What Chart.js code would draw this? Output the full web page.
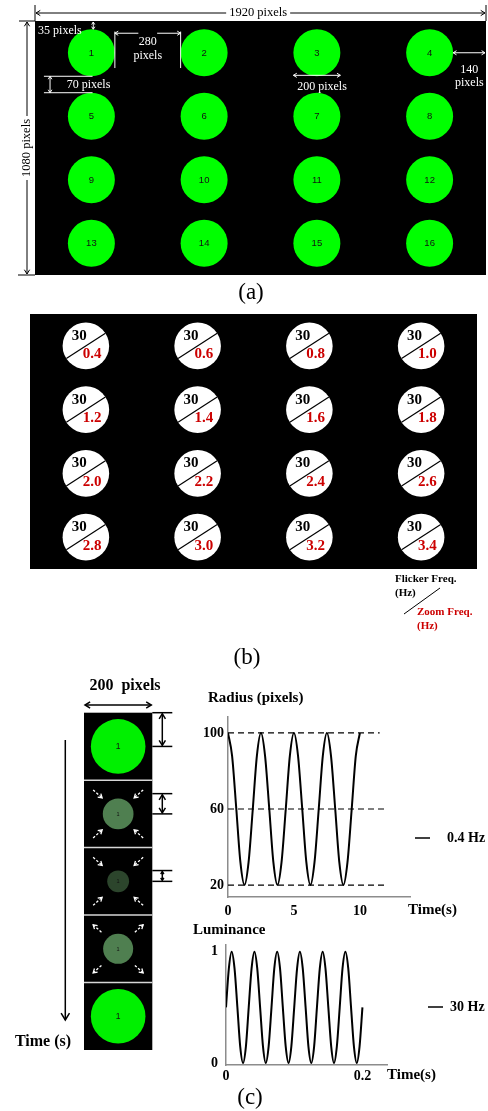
<!DOCTYPE html>
<html>
<head>
<meta charset="utf-8">
<script src="https://cdn.jsdelivr.net/npm/chart.js@4.4.1/dist/chart.umd.min.js"></script>
<style>
  html, body { margin: 0; padding: 0; background: #fff; }
  body { width: 488px; height: 1111px; position: relative; overflow: hidden; }
  canvas { position: absolute; }
</style>
</head>
<body>
<canvas id="panelA" width="488" height="305" style="left:0px;top:0px;width:488px;height:305px"></canvas>
<canvas id="panelB" width="488" height="370" style="left:0px;top:305px;width:488px;height:370px"></canvas>
<canvas id="frames" width="180" height="441" style="left:0px;top:670px;width:180px;height:441px"></canvas>
<canvas id="radius" width="308" height="260" style="left:180px;top:670px;width:308px;height:260px"></canvas>
<canvas id="lum" width="308" height="196" style="left:180px;top:915px;width:308px;height:196px"></canvas>
<script>
// screen layout (1920 x 1080), circle centres in screen pixels
const screenW = 1920;
const screenH = 1080;
const colCentres = [240, 720, 1200, 1680];
const rowCentres = [135, 405, 675, 945];
const circleRadius = 100;
const targetNumbers = [1, 2, 3, 4, 5, 6, 7, 8, 9, 10, 11, 12, 13, 14, 15, 16];

// panel (b) frequencies
const flickerFreq = 30;
const zoomFreqs = [0.4, 0.6, 0.8, 1.0, 1.2, 1.4, 1.6, 1.8, 2.0, 2.2, 2.4, 2.6, 2.8, 3.0, 3.2, 3.4];

// panel (c) frames over time (frame is 200 units wide)
const frameCentres = [100, 300, 500, 700, 900];
const frameRadii = [80, 45, 32, 44, 80];
const frameMotion = ['none', 'in', 'in', 'out', 'none'];

// radius curve, 0.4 Hz
const radiusTime = [0, 0.31, 0.63, 0.94, 1.25, 1.56, 1.88, 2.19, 2.5, 2.81, 3.13, 3.44, 3.75, 4.06, 4.38, 4.69,
  5, 5.31, 5.63, 5.94, 6.25, 6.56, 6.88, 7.19, 7.5, 7.81, 8.13, 8.44, 8.75, 9.06, 9.38, 9.69, 10];
const radiusValues = [100, 88, 60, 32, 20, 32, 60, 88, 100, 88, 60, 32, 20, 32, 60, 88,
  100, 88, 60, 32, 20, 32, 60, 88, 100, 88, 60, 32, 20, 32, 60, 88, 100];
const radiusTicksX = [0, 5, 10];
const radiusTicksY = [20, 60, 100];
const radiusGuides = [100, 60, 20];
const radiusGuideEnds = [11.5, 12.1, 12.1];

// luminance curve, 30 Hz (time in ms)
const lumTime = [0, 4.2, 8.3, 12.5, 16.7, 20.8, 25, 29.2, 33.3, 37.5, 41.7, 45.8, 50, 54.2, 58.3, 62.5,
  66.7, 70.8, 75, 79.2, 83.3, 87.5, 91.7, 95.8, 100, 104.2, 108.3, 112.5, 116.7, 120.8, 125, 129.2,
  133.3, 137.5, 141.7, 145.8, 150, 154.2, 158.3, 162.5, 166.7, 170.8, 175, 179.2, 183.3, 187.5, 191.7, 195.8, 200];
const lumValues = [0.5, 0.85, 1, 0.85, 0.5, 0.15, 0, 0.15, 0.5, 0.85, 1, 0.85, 0.5, 0.15, 0, 0.15,
  0.5, 0.85, 1, 0.85, 0.5, 0.15, 0, 0.15, 0.5, 0.85, 1, 0.85, 0.5, 0.15, 0, 0.15,
  0.5, 0.85, 1, 0.85, 0.5, 0.15, 0, 0.15, 0.5, 0.85, 1, 0.85, 0.5, 0.15, 0, 0.15, 0.5];
const lumTicksX = [0, 200];
const lumTicksY = [0, 1];

const SERIF = "'Liberation Serif', 'Times New Roman', serif";
const SANS = "'Liberation Sans', Arial, sans-serif";
const RED = '#cc0000';

// ---- drawing helpers ----
function drawLine(ctx, x1, y1, x2, y2) {
  ctx.beginPath();
  ctx.moveTo(x1, y1);
  ctx.lineTo(x2, y2);
  ctx.stroke();
}

function drawHead(ctx, fromX, fromY, x, y, size) {
  const ang = Math.atan2(y - fromY, x - fromX);
  ctx.save();
  ctx.setLineDash([]);
  ctx.beginPath();
  ctx.moveTo(x - size * Math.cos(ang - 0.55), y - size * Math.sin(ang - 0.55));
  ctx.lineTo(x, y);
  ctx.lineTo(x - size * Math.cos(ang + 0.55), y - size * Math.sin(ang + 0.55));
  ctx.stroke();
  ctx.restore();
}

function drawDoubleArrow(ctx, x1, y1, x2, y2, size) {
  drawLine(ctx, x1, y1, x2, y2);
  drawHead(ctx, x2, y2, x1, y1, size);
  drawHead(ctx, x1, y1, x2, y2, size);
}

function drawText(ctx, str, x, y, font, color, align) {
  ctx.font = font;
  ctx.fillStyle = color;
  ctx.textAlign = align || 'center';
  ctx.textBaseline = 'middle';
  ctx.fillText(str, x, y);
}

function labelOnWhite(ctx, str, x, y, font) {
  ctx.font = font;
  const w = ctx.measureText(str).width;
  ctx.fillStyle = '#fff';
  ctx.fillRect(x - w / 2 - 3, y - 7, w + 6, 14);
  drawText(ctx, str, x, y, font, '#000');
}

function fillArea(chart, colour) {
  const { ctx, chartArea: a } = chart;
  ctx.save();
  ctx.fillStyle = colour;
  ctx.fillRect(a.left, a.top, a.width, a.height);
  ctx.restore();
}

// radius in x-scale units -> pixels
function scaledRadius(chart, r) {
  const xs = chart.scales.x;
  if (!chart.chartArea || !xs) return 0;
  return Math.abs(xs.getPixelForValue(r) - xs.getPixelForValue(0));
}

function baseOptions(padding) {
  return {
    responsive: false,
    animation: false,
    events: [],
    layout: { autoPadding: false, padding: padding },
    plugins: { legend: { display: false }, tooltip: { enabled: false } }
  };
}

function screenScales() {
  return {
    x: { type: 'linear', min: 0, max: screenW, display: false },
    y: { type: 'linear', min: 0, max: screenH, reverse: true, display: false }
  };
}

const screenPoints = rowCentres.flatMap(y => colCentres.map(x => ({ x: x, y: y })));

// ---- panel (a) ----
const panelAPlugin = {
  id: 'panelA',
  beforeDatasetsDraw(chart) { fillArea(chart, '#000'); },
  afterDraw(chart) {
    const { ctx, chartArea: a, scales: { x, y } } = chart;
    const px = v => x.getPixelForValue(v);
    const py = v => y.getPixelForValue(v);
    ctx.save();
    chart.getDatasetMeta(0).data.forEach((pt, i) => {
      drawText(ctx, String(targetNumbers[i]), pt.x, pt.y + 0.5, '9.5px ' + SANS, '#111');
    });

    // outer dimensions
    ctx.strokeStyle = '#000';
    ctx.lineWidth = 1;
    const topY = a.top - 8;
    drawLine(ctx, a.left, a.top - 16, a.left, a.top);
    drawLine(ctx, a.right, a.top - 16, a.right, a.top);
    drawDoubleArrow(ctx, a.left + 1, topY, a.right - 1, topY, 5);
    labelOnWhite(ctx, '1920 pixels', px(950), topY, '12.5px ' + SERIF);
    const leftX = a.left - 8;
    drawLine(ctx, a.left - 16, a.top, a.left, a.top);
    drawLine(ctx, a.left - 17, a.bottom, a.left, a.bottom);
    drawDoubleArrow(ctx, leftX, a.top + 1, leftX, a.bottom - 1, 5);
    ctx.save();
    ctx.translate(leftX, (a.top + a.bottom) / 2);
    ctx.rotate(-Math.PI / 2);
    labelOnWhite(ctx, '1080 pixels', 0, 0, '12.5px ' + SERIF);
    ctx.restore();

    // inner dimensions
    const f = '12px ' + SERIF;
    ctx.strokeStyle = '#fff';
    drawText(ctx, '35 pixels', px(13), py(41), f, '#fff', 'left');
    drawDoubleArrow(ctx, px(248), py(0) + 1, px(248), py(35), 3);
    drawLine(ctx, px(340), py(45), px(340), py(200));
    drawLine(ctx, px(620), py(45), px(620), py(200));
    drawLine(ctx, px(340), py(52), px(440), py(52));
    drawHead(ctx, px(440), py(52), px(340), py(52), 4);
    drawLine(ctx, px(520), py(52), px(620), py(52));
    drawHead(ctx, px(520), py(52), px(620), py(52), 4);
    drawText(ctx, '280', px(480), py(90), f, '#fff');
    drawText(ctx, 'pixels', px(480), py(147), f, '#fff');
    drawLine(ctx, px(38), py(235), px(245), py(235));
    drawLine(ctx, px(38), py(305), px(245), py(305));
    drawDoubleArrow(ctx, px(64), py(235), px(64), py(305), 3.5);
    drawText(ctx, '70 pixels', px(135), py(272), f, '#fff', 'left');
    drawDoubleArrow(ctx, px(1100), py(231), px(1300), py(231), 4);
    drawText(ctx, '200 pixels', px(1222), py(279), f, '#fff');
    drawDoubleArrow(ctx, px(1780), py(135), px(1920) - 1, py(135), 4);
    drawText(ctx, '140', px(1849), py(206), f, '#fff');
    drawText(ctx, 'pixels', px(1849), py(261), f, '#fff');

    drawText(ctx, '(a)', 251, 293, '23px ' + SERIF, '#000');
    ctx.restore();
  }
};

new Chart(document.getElementById('panelA'), {
  type: 'scatter',
  data: {
    datasets: [{
      data: screenPoints,
      backgroundColor: '#00ff00',
      borderWidth: 0,
      pointRadius: c => scaledRadius(c.chart, circleRadius)
    }]
  },
  options: Object.assign(baseOptions({ left: 35, top: 21, right: 2, bottom: 30 }), { scales: screenScales() }),
  plugins: [panelAPlugin]
});

// ---- panel (b) ----
const panelBPlugin = {
  id: 'panelB',
  beforeDatasetsDraw(chart) { fillArea(chart, '#000'); },
  afterDraw(chart) {
    const { ctx } = chart;
    const r = scaledRadius(chart, circleRadius);
    ctx.save();
    ctx.strokeStyle = '#000';
    ctx.lineWidth = 1.2;
    chart.getDatasetMeta(0).data.forEach((pt, i) => {
      drawLine(ctx, pt.x - 0.84 * r, pt.y + 0.54 * r, pt.x + 0.84 * r, pt.y - 0.54 * r);
      drawText(ctx, String(flickerFreq), pt.x - 0.28 * r, pt.y - 0.42 * r, 'bold 15px ' + SERIF, '#000');
      drawText(ctx, zoomFreqs[i].toFixed(1), pt.x + 0.27 * r, pt.y + 0.37 * r, 'bold 15px ' + SERIF, RED);
    });

    // key
    const kf = 'bold 11px ' + SERIF;
    drawText(ctx, 'Flicker Freq.', 395, 274, kf, '#000', 'left');
    drawText(ctx, '(Hz)', 395, 288, kf, '#000', 'left');
    ctx.lineWidth = 1;
    drawLine(ctx, 404, 309, 440, 283);
    drawText(ctx, 'Zoom Freq.', 417, 307, kf, RED, 'left');
    drawText(ctx, '(Hz)', 417, 321, kf, RED, 'left');

    drawText(ctx, '(b)', 247, 353, '23px ' + SERIF, '#000');
    ctx.restore();
  }
};

new Chart(document.getElementById('panelB'), {
  type: 'scatter',
  data: {
    datasets: [{
      data: screenPoints,
      backgroundColor: '#ffffff',
      borderWidth: 0,
      pointRadius: c => scaledRadius(c.chart, circleRadius)
    }]
  },
  options: Object.assign(baseOptions({ left: 30, top: 9, right: 11, bottom: 106 }), { scales: screenScales() }),
  plugins: [panelBPlugin]
});

// ---- panel (c), frames ----
const frameColours = ['#00f000', '#4f7f50', '#2c452c', '#4f7f50', '#00f000'];

const framesPlugin = {
  id: 'frames',
  beforeDatasetsDraw(chart) {
    const { ctx, chartArea: a, scales: { y } } = chart;
    fillArea(chart, '#000');
    ctx.save();
    ctx.strokeStyle = '#d6d6d6';
    ctx.lineWidth = 1.5;
    for (let k = 1; k < frameCentres.length; k++) {
      const yy = y.getPixelForValue(frameCentres[k] - 100);
      drawLine(ctx, a.left, yy, a.right, yy);
    }
    ctx.restore();
  },
  afterDraw(chart) {
    const { ctx, chartArea: a, scales: { x, y } } = chart;
    const px = v => x.getPixelForValue(v);
    const py = v => y.getPixelForValue(v);
    ctx.save();
    chart.getDatasetMeta(0).data.forEach((pt, i) => {
      const size = frameRadii[i] > 60 ? 8.5 : 5.5;
      drawText(ctx, '1', pt.x, pt.y + 0.5, size + 'px ' + SANS, '#111');
      if (frameMotion[i] === 'none') return;
      ctx.strokeStyle = '#fff';
      ctx.lineWidth = 1.3;
      [-1, 1].forEach(sx => [-1, 1].forEach(sy => {
        const ox = pt.x + sx * 25, oy = pt.y + sy * 24;
        const ix = pt.x + sx * 16, iy = pt.y + sy * 16;
        ctx.setLineDash([2.5, 1.8]);
        drawLine(ctx, ox, oy, ix, iy);
        ctx.setLineDash([]);
        if (frameMotion[i] === 'in') drawHead(ctx, ox, oy, ix, iy, 4.5);
        else drawHead(ctx, ix, iy, ox, oy, 4.5);
      }));
    });

    // radius brackets
    ctx.strokeStyle = '#000';
    ctx.lineWidth = 1.5;
    [[0, 100], [240, 300], [468, 500]].forEach(([t, b], k) => {
      drawLine(ctx, a.right, py(t), a.right + 20, py(t));
      drawLine(ctx, a.right, py(b), a.right + 20, py(b));
      drawDoubleArrow(ctx, a.right + 10, py(t) + 1, a.right + 10, py(b) - 1, k === 2 ? 3 : 6);
    });

    // frame width
    drawDoubleArrow(ctx, px(0) + 1, 35, px(200) - 1, 35, 6);
    drawText(ctx, '200  pixels', 125, 16, 'bold 16px ' + SERIF, '#000');

    // time arrow
    drawLine(ctx, 65.3, 70, 65.3, 350);
    drawHead(ctx, 65.3, 300, 65.3, 350, 8);
    drawText(ctx, 'Time (s)', 43, 372, 'bold 16px ' + SERIF, '#000');
    ctx.restore();
  }
};

new Chart(document.getElementById('frames'), {
  type: 'scatter',
  data: {
    datasets: [{
      data: frameCentres.map(c => ({ x: 100, y: c })),
      backgroundColor: c => frameColours[c.dataIndex],
      borderWidth: 0,
      pointRadius: c => scaledRadius(c.chart, frameRadii[c.dataIndex])
    }]
  },
  options: Object.assign(baseOptions({ left: 84, top: 42.7, right: 27.7, bottom: 61 }), {
    scales: {
      x: { type: 'linear', min: 0, max: 200, display: false },
      y: { type: 'linear', min: 0, max: 1000, reverse: true, display: false }
    }
  }),
  plugins: [framesPlugin]
});

// ---- panel (c), curves ----
const tickFont = { family: SERIF, size: 14, weight: 'bold' };
const axisBorder = { display: true, color: '#8c8c8c', width: 1.5 };

function curveAxis(min, max, tickValues, padding, fit, callback) {
  const axis = {
    type: 'linear',
    min: min,
    max: max,
    grid: { display: false, drawTicks: false },
    border: axisBorder,
    ticks: { font: tickFont, color: '#000', padding: padding, autoSkip: false, maxRotation: 0 },
    afterBuildTicks: s => { s.ticks = tickValues.map(v => ({ value: v })); },
    afterFit: fit
  };
  if (callback) axis.ticks.callback = callback;
  return axis;
}

const radiusPlugin = {
  id: 'radiusText',
  afterDraw(chart) {
    const { ctx } = chart;
    ctx.save();
    drawText(ctx, 'Radius (pixels)', 28, 28, 'bold 15px ' + SERIF, '#000', 'left');
    drawText(ctx, 'Time(s)', 228, 240, 'bold 15px ' + SERIF, '#000', 'left');
    ctx.strokeStyle = '#000';
    ctx.lineWidth = 1.5;
    drawLine(ctx, 235, 168, 250, 168);
    drawText(ctx, '0.4 Hz', 267, 168, 'bold 14px ' + SERIF, '#000', 'left');
    ctx.restore();
  }
};

new Chart(document.getElementById('radius'), {
  type: 'line',
  data: {
    datasets: [{
      data: radiusTime.map((t, i) => ({ x: t, y: radiusValues[i] })),
      borderColor: '#000',
      borderWidth: 2,
      pointRadius: 0,
      cubicInterpolationMode: 'monotone'
    }].concat(radiusGuides.map((v, i) => ({
      data: [{ x: 0, y: v }, { x: radiusGuideEnds[i], y: v }],
      borderColor: '#000',
      borderWidth: 1.2,
      borderDash: [6, 4],
      pointRadius: 0
    })))
  },
  options: Object.assign(baseOptions({ left: 0, top: 47, right: 78, bottom: 13 }), {
    scales: {
      x: curveAxis(0, 13.8, radiusTicksX, 6, s => { s.height = 20; }),
      y: curveAxis(13.7, 108.4, radiusTicksY, 4, s => { s.width = 48; })
    }
  }),
  plugins: [radiusPlugin]
});

const lumPlugin = {
  id: 'lumText',
  afterDraw(chart) {
    const { ctx } = chart;
    ctx.save();
    drawText(ctx, 'Luminance', 13, 15, 'bold 15px ' + SERIF, '#000', 'left');
    drawText(ctx, 'Time(s)', 207, 160, 'bold 15px ' + SERIF, '#000', 'left');
    ctx.strokeStyle = '#000';
    ctx.lineWidth = 1.5;
    drawLine(ctx, 248, 92, 263, 92);
    drawText(ctx, '30 Hz', 270, 92, 'bold 14px ' + SERIF, '#000', 'left');
    drawText(ctx, '(c)', 70, 183, '23px ' + SERIF, '#000');
    ctx.restore();
  }
};

new Chart(document.getElementById('lum'), {
  type: 'line',
  data: {
    datasets: [{
      data: lumTime.map((t, i) => ({ x: t, y: lumValues[i] })),
      borderColor: '#000',
      borderWidth: 2,
      pointRadius: 0,
      cubicInterpolationMode: 'monotone'
    }]
  },
  options: Object.assign(baseOptions({ left: 0, top: 30, right: 101, bottom: 26 }), {
    scales: {
      x: curveAxis(0, 236, lumTicksX, 3, s => { s.height = 20; }, v => String(v / 1000)),
      y: curveAxis(-0.018, 1.06, lumTicksY, 8, s => { s.width = 46; })
    }
  }),
  plugins: [lumPlugin]
});
</script>
</body>
</html>
